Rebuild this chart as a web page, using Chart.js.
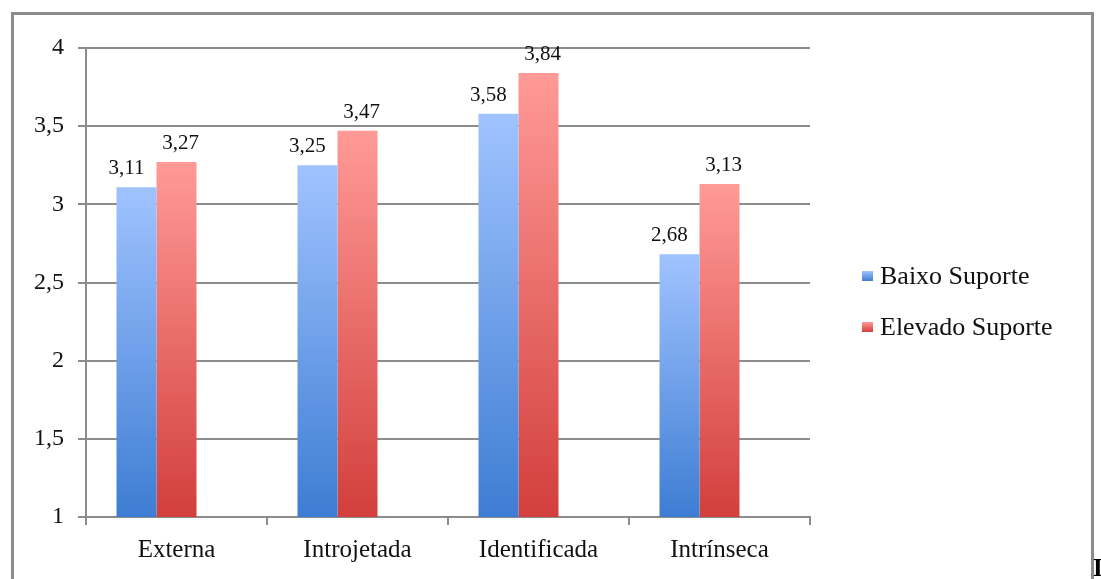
<!DOCTYPE html>
<html>
<head>
<meta charset="utf-8">
<script src="https://cdn.jsdelivr.net/npm/chart.js@4.4.1/dist/chart.umd.min.js"></script>
<style>
  html, body { margin: 0; padding: 0; background: #fff; overflow: hidden; }
  #wrap { position: absolute; left: 0; top: 0; width: 1101px; height: 579px; }
  #frame {
    position: absolute; left: 11px; top: 12px; width: 1077px; height: 600px;
    border: 3px solid #8c8c8c; border-bottom: none;
  }
  #stray {
    position: absolute; left: 1093px; top: 554px;
    font: bold 25px "Liberation Serif", serif; color: #000;
  }
</style>
</head>
<body>
<div id="wrap">
  <div id="frame"></div>
  <canvas id="chart" width="1101" height="579"></canvas>
  <span id="stray">I</span>
</div>
<script>
// categorias e valores
const categories = ["Externa", "Introjetada", "Identificada", "Intrínseca"];
const baixoSuporte = [3.11, 3.25, 3.58, 2.68];
const elevadoSuporte = [3.27, 3.47, 3.84, 3.13];
// the original has an empty third series slot, which pushes the bars left
const emptySeries = [null, null, null, null];
const seriesNames = ["Baixo Suporte", "Elevado Suporte"];
const yTicks = { min: 1, max: 4, step: 0.5 };

const serif = "'Liberation Serif', 'Times New Roman', serif";
const gridGray = "#8c8c8c";

// top/bottom colours of each series gradient
const shades = [
  ["#a0c3ff", "#3e7dd3"],
  ["#ff9a97", "#d23f3c"],
  ["#ffffff", "#ffffff"]
];

const fmt = v => v.toFixed(2).replace(".", ",");

function barGradient(ctx) {
  const chart = ctx.chart;
  const area = chart.chartArea;
  const pair = shades[ctx.datasetIndex];
  if (!area || !chart.scales.y || ctx.type !== "data" || ctx.raw == null) return pair[1];
  const top = chart.scales.y.getPixelForValue(ctx.raw);
  const g = chart.ctx.createLinearGradient(0, top, 0, area.bottom);
  g.addColorStop(0, pair[0]);
  g.addColorStop(1, pair[1]);
  return g;
}

// value labels above bars
const valueLabels = {
  id: "valueLabels",
  afterDatasetsDraw(chart) {
    const c = chart.ctx;
    c.save();
    c.font = "21px " + serif;
    c.fillStyle = "#111";
    c.textAlign = "center";
    c.textBaseline = "bottom";
    chart.data.datasets.forEach((ds, i) => {
      if (!ds.label) return;
      const nudge = i === 0 ? -10 : 4;
      chart.getDatasetMeta(i).data.forEach((bar, j) => {
        c.fillText(fmt(ds.data[j]), bar.x + nudge, bar.y - 8);
      });
    });
    c.restore();
  }
};

// legend on the right, as in the original
const sideLegend = {
  id: "sideLegend",
  afterDraw(chart) {
    const c = chart.ctx;
    c.save();
    c.font = "26px " + serif;
    c.textBaseline = "middle";
    chart.data.datasets.forEach((ds, i) => {
      if (!ds.label) return;
      const y = 276 + i * 51;
      const g = c.createLinearGradient(0, y - 5, 0, y + 5);
      g.addColorStop(0, shades[i][0]);
      g.addColorStop(1, shades[i][1]);
      c.fillStyle = g;
      c.fillRect(862, y - 5, 11, 10);
      c.fillStyle = "#111";
      c.fillText(ds.label, 880, y + 1);
    });
    c.restore();
  }
};

new Chart(document.getElementById("chart"), {
  type: "bar",
  data: {
    labels: categories,
    datasets: [
      { label: seriesNames[0], data: baixoSuporte, backgroundColor: barGradient },
      { label: seriesNames[1], data: elevadoSuporte, backgroundColor: barGradient },
      { label: "", data: emptySeries, backgroundColor: barGradient }
    ]
  },
  options: {
    responsive: false,
    animation: false,
    devicePixelRatio: 1,
    categoryPercentage: 0.663,
    barPercentage: 1,
    layout: { padding: { left: 0, right: 291, top: 48, bottom: 0 } },
    plugins: {
      legend: { display: false },
      tooltip: { enabled: false }
    },
    scales: {
      x: {
        afterFit: s => { s.height = 62; },
        grid: {
          offset: true,
          drawOnChartArea: false,
          drawTicks: true,
          tickLength: 8,
          color: gridGray,
          lineWidth: 2
        },
        border: { display: true, color: gridGray, width: 2 },
        ticks: { padding: 10, color: "#111", font: { family: serif, size: 25 } }
      },
      y: {
        min: yTicks.min,
        max: yTicks.max,
        afterFit: s => { s.width = 86; },
        grid: { color: gridGray, lineWidth: 2, tickLength: 8 },
        border: { display: true, color: gridGray, width: 2 },
        ticks: {
          stepSize: yTicks.step,
          padding: 14,
          color: "#111",
          font: { family: serif, size: 24 },
          callback: v => String(v).replace(".", ",")
        }
      }
    }
  },
  plugins: [valueLabels, sideLegend]
});
</script>
</body>
</html>
